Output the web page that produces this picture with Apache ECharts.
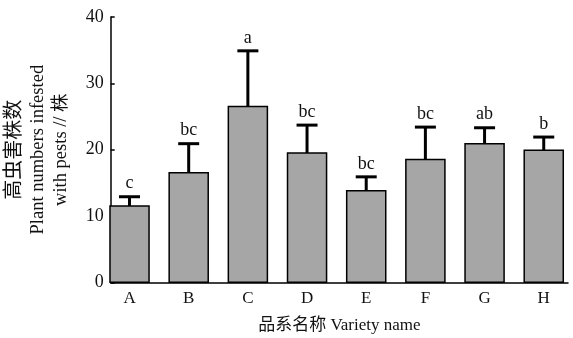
<!DOCTYPE html>
<html>
<head>
<meta charset="utf-8">
<script src="https://cdn.jsdelivr.net/npm/echarts@6/dist/echarts.min.js"></script>
<style>
html,body{margin:0;padding:0;background:#fff;}
#chart{width:573px;height:338px;}
</style>
</head>
<body>
<div id="chart"></div>
<script>
var categories = ['A','B','C','D','E','F','G','H'];
var means = [11.5, 16.5, 26.5, 19.5, 13.8, 18.5, 20.9, 19.9];
var uppers = [12.9, 20.9, 34.9, 23.7, 15.9, 23.4, 23.3, 21.9];
var letters = ['c','bc','a','bc','bc','bc','ab','b'];
var yTicks = [0, 10, 20, 30, 40];

var FONT = "'Liberation Serif', 'Noto Sans CJK SC', serif";
var chart = echarts.init(document.getElementById('chart'));

var barData = categories.map(function (c, i) { return [i, means[i]]; });
var errData = categories.map(function (c, i) { return [i, means[i], uppers[i]]; });
var BAR_W = 0.66; // in category units

chart.setOption({
  animation: false,
  backgroundColor: '#fff',
  grid: { left: 110.7, right: 5, top: 17, bottom: 55.7, outerBoundsMode: 'none', containLabel: false },
  xAxis: {
    type: 'value',
    min: -0.318,
    max: 7.41,
    splitNumber: 8,
    name: '品系名称 Variety name',
    nameLocation: 'middle',
    nameGap: 35,
    nameTextStyle: { fontFamily: FONT, fontSize: 17, color: '#111' },
    axisLine: { show: true, onZero: false, lineStyle: { color: '#000', width: 1.5 } },
    axisTick: { show: false },
    splitLine: { show: false },
    axisLabel: {
      fontFamily: FONT, fontSize: 17, color: '#111', margin: 8,
      showMinLabel: false, showMaxLabel: false,
      formatter: function (v) {
        var r = Math.round(v);
        if (Math.abs(v - r) < 1e-6 && r >= 0 && r < categories.length) return categories[r];
        return '';
      }
    }
  },
  yAxis: {
    type: 'value',
    min: yTicks[0],
    max: yTicks[yTicks.length - 1],
    interval: 10,
    name: '{c|高虫害株数}\n{a|Plant numbers infested}\n{a|with pests // 株}',
    nameLocation: 'middle',
    nameRotate: 90,
    nameGap: 38,
    nameTextStyle: {
      fontFamily: FONT, fontSize: 18.5, lineHeight: 23, color: '#111',
      rich: {
        a: { width: 200, align: 'center', fontFamily: FONT, fontSize: 18.5, lineHeight: 23, color: '#111' },
        c: { width: 200, align: 'center', fontFamily: FONT, fontSize: 20, lineHeight: 23, color: '#111' }
      }
    },
    axisLine: { show: true, onZero: false, lineStyle: { color: '#000', width: 1.5 } },
    axisTick: { show: true, inside: true, length: 4, lineStyle: { color: '#000', width: 1.5 } },
    splitLine: { show: false },
    axisLabel: { fontFamily: FONT, fontSize: 18, color: '#111', margin: 7 }
  },
  series: [
    {
      type: 'custom',
      data: barData,
      encode: { x: 0, y: 1 },
      z: 2,
      renderItem: function (params, api) {
        var x = api.value(0);
        var tl = api.coord([x - BAR_W / 2, api.value(1)]);
        var br = api.coord([x + BAR_W / 2, 0]);
        return {
          type: 'rect',
          shape: { x: tl[0], y: tl[1], width: br[0] - tl[0], height: br[1] - tl[1] },
          style: { fill: '#a6a6a6', stroke: '#000', lineWidth: 1.5 }
        };
      }
    },
    {
      type: 'custom',
      data: errData,
      encode: { x: 0, y: [1, 2] },
      z: 3,
      renderItem: function (params, api) {
        var x = api.value(0);
        var p0 = api.coord([x, api.value(1)]);
        var p1 = api.coord([x, api.value(2)]);
        return {
          type: 'group',
          children: [
            { type: 'line', shape: { x1: p0[0], y1: p0[1], x2: p1[0], y2: p1[1] },
              style: { stroke: '#000', lineWidth: 3 } },
            { type: 'line', shape: { x1: p1[0] - 10.5, y1: p1[1], x2: p1[0] + 10.5, y2: p1[1] },
              style: { stroke: '#000', lineWidth: 3 } },
            { type: 'text', x: p1[0], y: p1[1] - 4,
              style: { text: letters[params.dataIndex], fontFamily: FONT, fontSize: 18,
                       fill: '#111', align: 'center', verticalAlign: 'bottom' } }
          ]
        };
      }
    }
  ]
});
</script>
</body>
</html>
